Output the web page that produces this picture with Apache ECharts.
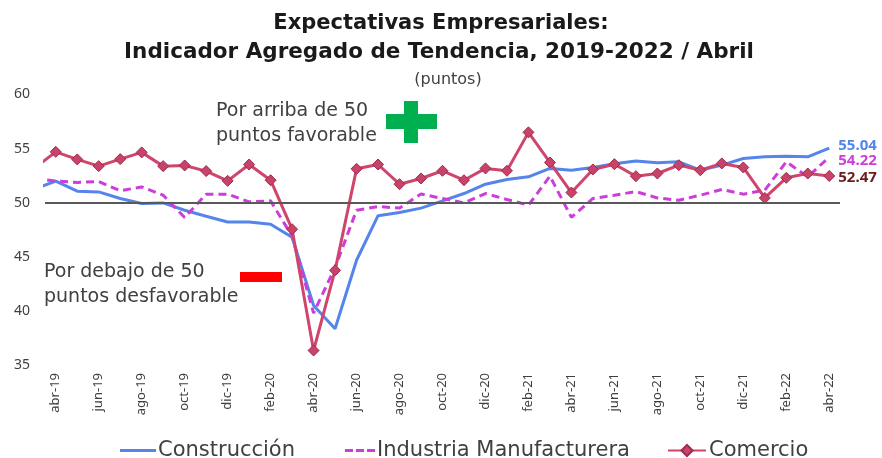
<!DOCTYPE html>
<html>
<head>
<meta charset="utf-8">
<script src="https://cdn.jsdelivr.net/npm/echarts@6/dist/echarts.min.js"></script>
<style>
html,body{margin:0;padding:0;background:#fff;}
#c{width:882px;height:458px;}
</style>
</head>
<body>
<div id="c"></div>
<script>
// ---- data ----
const categories = ['abr-19','may-19','jun-19','jul-19','ago-19','sep-19','oct-19','nov-19','dic-19','ene-20','feb-20','mar-20','abr-20','may-20','jun-20','jul-20','ago-20','sep-20','oct-20','nov-20','dic-20','ene-21','feb-21','mar-21','abr-21','may-21','jun-21','jul-21','ago-21','sep-21','oct-21','nov-21','dic-21','ene-22','feb-22','mar-22','abr-22'];
const construccion = [51.99,51.06,51.0,50.39,49.93,49.98,49.3,48.75,48.22,48.22,48.0,46.8,40.5,38.35,44.68,48.8,49.1,49.5,50.17,50.85,51.71,52.15,52.39,53.17,53.0,53.26,53.6,53.85,53.7,53.78,53.0,53.47,54.09,54.24,54.3,54.24,55.04];
const industria = [52.0,51.87,51.96,51.1,51.46,50.69,48.63,50.79,50.79,50.08,50.17,46.9,39.8,44.0,49.3,49.65,49.5,50.8,50.39,49.98,50.85,50.3,49.77,52.45,48.65,50.39,50.69,51.03,50.44,50.23,50.69,51.22,50.79,51.16,53.78,52.39,54.22];
const comercio = [54.70,54.0,53.38,54.03,54.65,53.38,53.44,52.92,52.02,53.53,52.08,47.55,36.34,43.75,53.13,53.53,51.71,52.24,52.95,52.08,53.17,52.95,56.5,53.72,50.94,53.07,53.56,52.45,52.7,53.47,53.0,53.63,53.26,50.44,52.3,52.7,52.47];
// previous month (mar-19), only partially visible at the left edge
const prevMonth = 'mar-19';
const prevConstruccion = 51.25;
const prevIndustria = 52.26;
const prevComercio = 53.17;
const yTicks = [35,40,45,50,55,60];

// ---- chart ----
const FONT = "'DejaVu Sans', sans-serif";
const FONT2 = "'Noto Sans', 'DejaVu Sans', sans-serif";
const C_BLUE = '#5585ea';
const C_MAG = '#cc3ddb';
const C_COM = '#d0456b';

function pts(prev, arr){
  return [[-1, prev]].concat(arr.map((v,i)=>[i,v]));
}
function endLbl(color, dy){
  return {show:true, distance:9, offset:[0,dy], color:color, fontSize:15, fontWeight:'bold', fontFamily:FONT2,
          formatter:(p)=>p.value[1].toFixed(2)};
}

const chart = echarts.init(document.getElementById('c'), null, {renderer:'canvas'});
chart.setOption({
  animation:false,
  backgroundColor:'#fff',
  title:[
    {text:'Expectativas Empresariales:', left:436, top:8, textAlign:'center',
     textStyle:{fontFamily:FONT, fontWeight:'bold', fontSize:21, color:'#1a1a1a'}},
    {text:'Indicador Agregado de Tendencia, 2019-2022 / Abril', left:434, top:36, textAlign:'center',
     textStyle:{fontFamily:FONT, fontWeight:'bold', fontSize:21.5, color:'#1a1a1a'}},
    {text:'(puntos)', left:443, top:67, textAlign:'center',
     textStyle:{fontFamily:FONT, fontWeight:'normal', fontSize:16, color:'#404040'}}
  ],
  grid:{left:45, right:42, top:94.5, bottom:93, containLabel:false},
  xAxis:[
    {type:'category', data:categories, boundaryGap:true,
     axisLine:{show:false}, axisTick:{show:false},
     axisLabel:{interval:1, rotate:90, margin:8, color:'#404040', fontSize:13, fontFamily:FONT2}},
    {type:'value', min:-0.5, max:36.5, show:false}
  ],
  yAxis:{type:'value', min:yTicks[0], max:yTicks[yTicks.length-1], interval:5,
    splitLine:{show:false}, axisLine:{show:false}, axisTick:{show:false},
    axisLabel:{margin:15, color:'#404040', fontSize:14, fontFamily:FONT2}},
  legend:[
    {data:[{name:'Construcción', icon:'rect'}], left:115, top:435, itemWidth:36, itemHeight:3,
     textStyle:{fontSize:21, color:'#404040', fontFamily:FONT, padding:[0,0,0,-3]}},
    {data:[{name:'Industria Manufacturera', icon:'path://M0,0h8v3h-8z M11,0h8v3h-8z M22,0h8v3h-8z'}], left:340, top:435, itemWidth:30, itemHeight:3,
     textStyle:{fontSize:21, color:'#404040', fontFamily:FONT, padding:[0,0,0,-3]}},
    {data:['Comercio'], left:662, top:435, itemWidth:38, itemHeight:14,
     textStyle:{fontSize:21, color:'#404040', fontFamily:FONT, padding:[0,0,0,-2]}}
  ],
  series:[
    {name:'Construcción', type:'line', xAxisIndex:1, data:pts(prevConstruccion, construccion),
     symbol:'none', clip:true, color:C_BLUE, lineStyle:{width:3, color:C_BLUE}, z:2,
     endLabel:endLbl(C_BLUE,-2),
     markLine:{silent:true, symbol:['none','none'], label:{show:false},
       lineStyle:{color:'#595959', width:2, type:'solid'}, data:[{yAxis:50}]}},
    {name:'Industria Manufacturera', type:'line', xAxisIndex:1, data:pts(prevIndustria, industria),
     symbol:'none', clip:true, color:C_MAG, lineStyle:{width:3, color:C_MAG, type:[8,5]}, z:3,
     endLabel:endLbl(C_MAG,4)},
    {name:'Comercio', type:'line', xAxisIndex:1, data:pts(prevComercio, comercio),
     symbol:'diamond', symbolSize:11, showAllSymbol:true, clip:true, color:C_COM,
     itemStyle:{color:'#c9426a', borderColor:'#9a2d4b', borderWidth:1},
     lineStyle:{width:3, color:C_COM}, z:4,
     endLabel:endLbl('#6b1c1c',2)}
  ],
  graphic:[
    {type:'text', left:216, top:99, style:{text:'Por arriba de 50\npuntos favorable', fontSize:19, lineHeight:24.5, fill:'#404040', fontFamily:FONT}},
    {type:'rect', shape:{x:386, y:114, width:51, height:15}, style:{fill:'#00b050'}},
    {type:'rect', shape:{x:404, y:101, width:14, height:42}, style:{fill:'#00b050'}},
    {type:'text', left:44, top:260, style:{text:'Por debajo de 50\npuntos desfavorable', fontSize:19, lineHeight:24.5, fill:'#404040', fontFamily:FONT}},
    {type:'rect', shape:{x:240, y:272, width:42, height:10}, style:{fill:'#ff0000'}}
  ]
});
</script>
</body>
</html>
